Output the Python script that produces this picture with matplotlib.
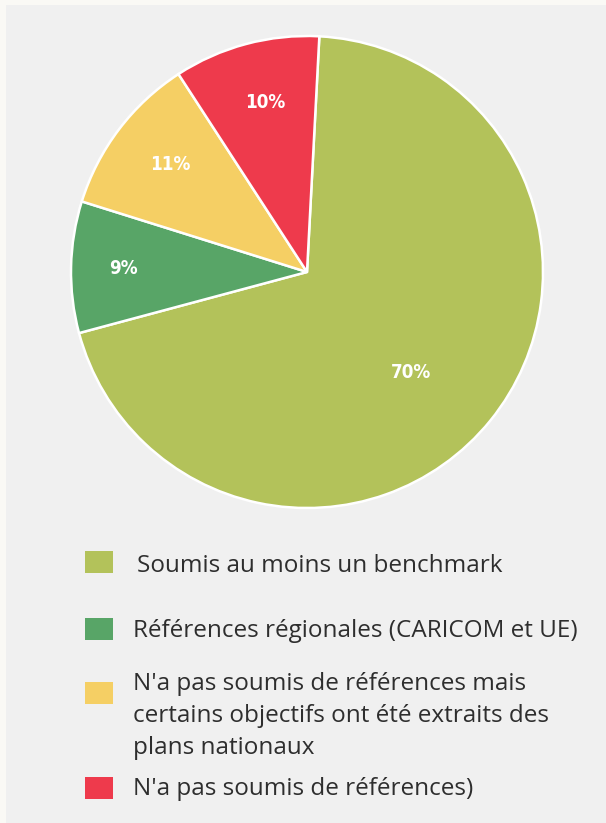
import matplotlib
matplotlib.use("Agg")
import matplotlib.pyplot as plt
from matplotlib.patches import Rectangle
import numpy as np

categories = [
    "Soumis au moins un benchmark",
    "Références régionales (CARICOM et UE)",
    "N'a pas soumis de références mais\ncertains objectifs ont été extraits des\nplans nationaux",
    "N'a pas soumis de références)",
]
values = [70, 9, 11, 10]
colors = ["#b3c25a", "#58a567", "#f5cf64", "#ee3a4c"]

W, H = 606, 823
fig = plt.figure(figsize=(W / 100, H / 100), dpi=100)
fig.patch.set_facecolor("#faf9f5")
fig.patches.append(Rectangle((6 / W, 0), 1 - 6 / W, 1 - 5 / H, transform=fig.transFigure,
                             facecolor="#f0f0f0", edgecolor="none", zorder=-5))

cx, cy, r = 307, 272, 236
ax = fig.add_axes([(cx - r) / W, (H - cy - r) / H, 2 * r / W, 2 * r / H])
ax.set_zorder(2)
ax.set_facecolor("none")
wedges, texts, autotexts = ax.pie(
    values, colors=colors, startangle=87, counterclock=False,
    autopct="%d%%", pctdistance=0.75,
    wedgeprops=dict(edgecolor="white", linewidth=1.8),
    textprops=dict(color="white", fontsize=13.5, fontweight="bold",
                   family="DejaVu Sans", fontstretch="condensed"),
)
# fine placement of the percentage labels
lab_r = [0.61, 0.78, 0.74, 0.74]
lab_da = [-5, 0, -1, -1]
for w, t, rr, da in zip(wedges, autotexts, lab_r, lab_da):
    mid = np.deg2rad((w.theta1 + w.theta2) / 2 + da)
    t.set_position((rr * np.cos(mid), rr * np.sin(mid)))
ax.set_xlim(-1, 1)
ax.set_ylim(-1, 1)
ax.set_aspect("equal")
ax.axis("off")

# legend drawn manually
sq_x, sq_w, sq_h = 85, 28, 22
txt_x = [137, 133, 133, 133]
sq_top = [551, 618, 682, 777]
base = [572, 637, 754, 795]
for lab, col, st, b, tx in zip(categories, colors, sq_top, base, txt_x):
    fig.patches.append(Rectangle((sq_x / W, 1 - (st + sq_h) / H), sq_w / W, sq_h / H,
                                 transform=fig.transFigure, facecolor=col,
                                 edgecolor="none", zorder=2))
    fig.text(tx / W, 1 - b / H, lab, ha="left", va="baseline", fontsize=17.5,
             family="Open Sans", color="#2e2e2e", linespacing=1.45)

fig.savefig("out.png", dpi=100, facecolor=fig.get_facecolor())
